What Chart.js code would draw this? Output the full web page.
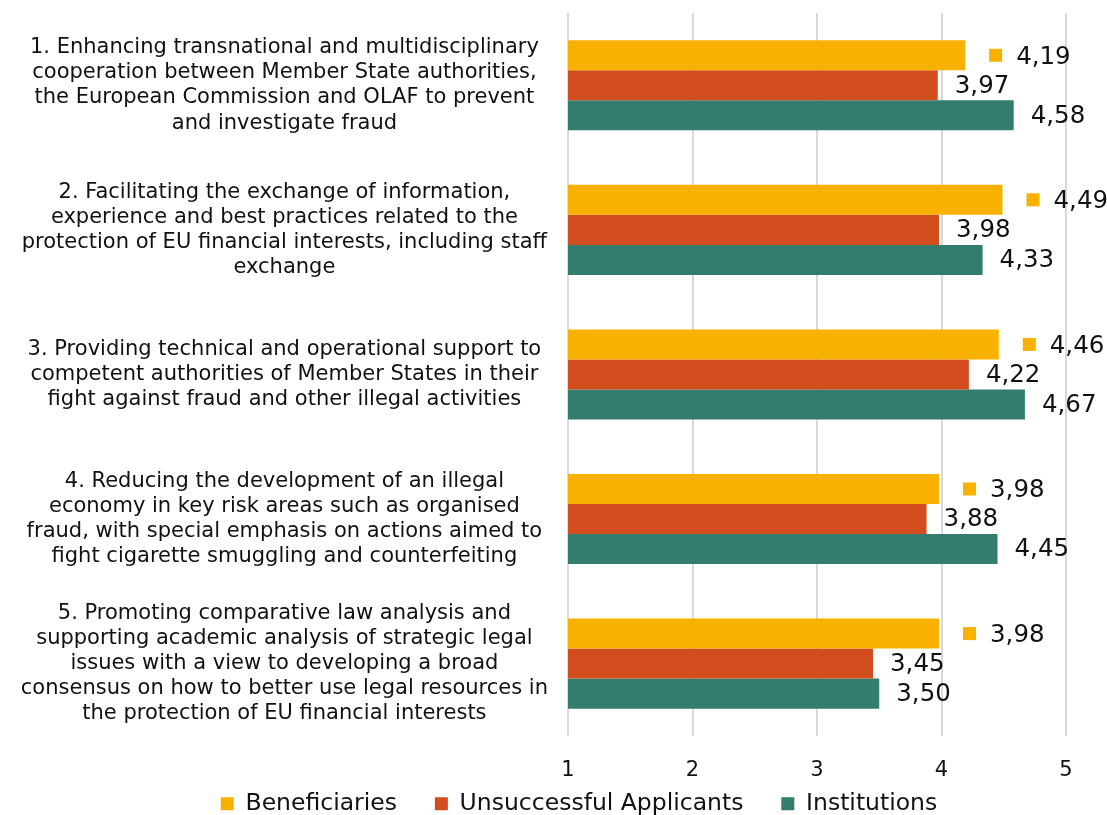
<!DOCTYPE html>
<html>
<head>
<meta charset="utf-8">
<script src="https://cdn.jsdelivr.net/npm/chart.js@4.4.1/dist/chart.umd.min.js"></script>
<style>
  html, body { margin: 0; padding: 0; background: #ffffff; }
  canvas { display: block; }
</style>
</head>
<body>
<canvas id="c" width="1107" height="815"></canvas>
<script>
const categories = [
  ["1. Enhancing transnational and multidisciplinary", "cooperation between Member State authorities,", "the European Commission and OLAF to prevent", "and investigate fraud"],
  ["2. Facilitating the exchange of information,", "experience and best practices related to the", "protection of EU financial interests, including staff", "exchange"],
  ["3. Providing technical and operational support to", "competent authorities of Member States in their", "fight against fraud and other illegal activities"],
  ["4. Reducing the development of an illegal", "economy in key risk areas such as organised", "fraud, with special emphasis on actions aimed to", "fight cigarette smuggling and counterfeiting"],
  ["5. Promoting comparative law analysis and", "supporting academic analysis of strategic legal", "issues with a view to developing a broad", "consensus on how to better use legal resources in", "the protection of EU financial interests"]
];
const seriesNames = ["Beneficiaries", "Unsuccessful Applicants", "Institutions"];
const beneficiaries = [4.19, 4.49, 4.46, 3.98, 3.98];
const unsuccessful = [3.97, 3.98, 4.22, 3.88, 3.45];
const institutions = [4.58, 4.33, 4.67, 4.45, 3.50];
const xTicks = [1, 2, 3, 4, 5];

const colors = ["#F9B100", "#D34E1E", "#337C6E"];
const TEXT = "#111111";
Chart.defaults.font.family = "'DejaVu Sans', Verdana, sans-serif";

const valueLabels = {
  id: 'valueLabels',
  afterDatasetsDraw(chart) {
    const ctx = chart.ctx;
    ctx.save();
    ctx.font = "24.5px 'DejaVu Sans'";
    ctx.textBaseline = 'middle';
    ctx.textAlign = 'left';
    chart.data.datasets.forEach((ds, di) => {
      const meta = chart.getDatasetMeta(di);
      meta.data.forEach((bar, i) => {
        const txt = ds.data[i].toFixed(2).replace('.', ',');
        if (di === 0) {
          ctx.fillStyle = ds.backgroundColor;
          ctx.fillRect(bar.x + 24, bar.y - 6.5, 13, 13);
          ctx.fillStyle = TEXT;
          ctx.fillText(txt, bar.x + 51, bar.y + 2);
        } else {
          ctx.fillStyle = TEXT;
          ctx.fillText(txt, bar.x + 17, bar.y + 1);
        }
      });
    });
    ctx.restore();
  }
};

// shift the legend block horizontally to sit where the reference places it
const legendShift = {
  id: 'legendShift',
  afterLayout(chart) {
    const lg = chart.legend;
    if (lg) { lg.left += 46; lg.right += 46; }
  }
};

new Chart(document.getElementById('c'), {
  type: 'bar',
  data: {
    labels: categories,
    datasets: [
      { label: seriesNames[0] + "    ", data: beneficiaries, backgroundColor: colors[0] },
      { label: seriesNames[1] + "    ", data: unsuccessful, backgroundColor: colors[1] },
      { label: seriesNames[2], data: institutions, backgroundColor: colors[2] }
    ]
  },
  options: {
    indexAxis: 'y',
    responsive: false,
    animation: false,
    devicePixelRatio: 1,
    layout: { padding: { left: 0, right: 41, top: 13, bottom: -10.4 } },
    datasets: { bar: { categoryPercentage: 0.623, barPercentage: 1.0, borderWidth: 0 } },
    scales: {
      x: {
        type: 'linear', min: 1, max: 5,
        afterBuildTicks: (s) => { s.ticks = xTicks.map(v => ({ value: v })); },
        afterFit: (s) => { s.paddingLeft = 0; s.paddingRight = 0; s.height = 48; },
        grid: { color: '#D9D9D9', lineWidth: 2, drawTicks: false },
        border: { display: false },
        ticks: { color: TEXT, font: { size: 21 }, padding: 22 }
      },
      y: {
        grid: { display: false, drawTicks: false },
        border: { display: false },
        afterFit: (s) => { s.width = 568; s.paddingTop = 0; s.paddingBottom = 0; },
        ticks: { color: TEXT, font: { size: 21 }, crossAlign: 'center', padding: 20, autoSkip: false }
      }
    },
    plugins: {
      legend: {
        position: 'bottom',
        labels: { color: TEXT, font: { size: 23.5 }, boxWidth: 13, boxHeight: 13, padding: 8 }
      },
      tooltip: { enabled: false }
    }
  },
  plugins: [valueLabels, legendShift]
});
</script>
</body>
</html>
